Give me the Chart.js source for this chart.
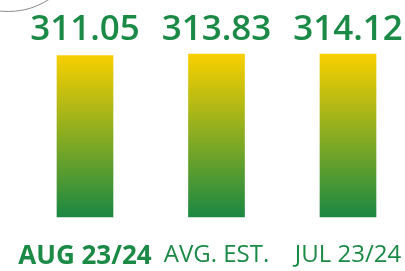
<!DOCTYPE html>
<html>
<head>
<meta charset="utf-8">
<script src="https://cdn.jsdelivr.net/npm/chart.js@4/dist/chart.umd.min.js"></script>
<style>
  html, body { margin: 0; padding: 0; background: #fff; }
  #wrap { width: 405px; height: 271px; position: relative; }
</style>
</head>
<body>
<div id="wrap"><canvas id="chart"></canvas></div>
<script>
// chart data
const categories = ['AUG 23/24', 'AVG. EST.', 'JUL 23/24'];
const prices = [311.05, 313.83, 314.12];
const boldLabel = [true, false, false];

const GREEN = '#1b8a46';
const YELLOW = '#f9d000';
const FONT = "'Open Sans', 'Noto Sans', sans-serif";

// vertical yellow -> green fill for each bar
function barGradient(context) {
  const chart = context.chart;
  const area = chart.chartArea;
  if (!area) return YELLOW;
  const g = chart.ctx.createLinearGradient(0, area.top, 0, area.bottom);
  g.addColorStop(0, YELLOW);
  g.addColorStop(1, '#1a8842');
  return g;
}

// decorative arc in the corner + value labels over the bars
const decorPlugin = {
  id: 'decor',
  beforeDraw(chart) {
    const ctx = chart.ctx;
    ctx.save();
    ctx.strokeStyle = '#8a8a8a';
    ctx.lineWidth = 1;
    ctx.beginPath();
    ctx.arc(8.6, -62, 73.5, 0, Math.PI);
    ctx.stroke();
    ctx.restore();
  },
  afterDatasetsDraw(chart) {
    const ctx = chart.ctx;
    const meta = chart.getDatasetMeta(0);
    ctx.save();
    ctx.fillStyle = GREEN;
    ctx.font = `600 35px ${FONT}`;
    ctx.textAlign = 'center';
    ctx.textBaseline = 'alphabetic';
    meta.data.forEach((bar, i) => {
      ctx.fillText(prices[i].toFixed(2), bar.x, chart.chartArea.top - 14);
    });
    ctx.restore();
  }
};

new Chart(document.getElementById('chart'), {
  type: 'bar',
  data: {
    labels: categories,
    datasets: [{
      data: prices,
      backgroundColor: barGradient,
      borderWidth: 0,
      barThickness: 56,
      clip: false
    }]
  },
  options: {
    responsive: true,
    maintainAspectRatio: false,
    animation: false,
    layout: { padding: { top: 54, left: 85, right: 57, bottom: 0 } },
    plugins: {
      legend: { display: false },
      tooltip: { enabled: false }
    },
    scales: {
      x: {
        offset: false,
        grid: { display: false, drawTicks: false, offset: false },
        border: { display: false },
        afterFit: (scale) => {
          // fixed axis band, and no extra side padding for edge labels
          scale.height = 54;
          scale.paddingLeft = 0;
          scale.paddingRight = 0;
        },
        ticks: {
          padding: 24,
          maxRotation: 0,
          autoSkip: false,
          color: GREEN,
          font: (ctx) => ({
            family: FONT,
            size: boldLabel[ctx.index] ? 26 : 24,
            weight: boldLabel[ctx.index] ? '700' : '400'
          })
        }
      },
      y: {
        display: false,
        min: 0,
        max: Math.max(...prices)
      }
    }
  },
  plugins: [decorPlugin]
});
</script>
</body>
</html>
